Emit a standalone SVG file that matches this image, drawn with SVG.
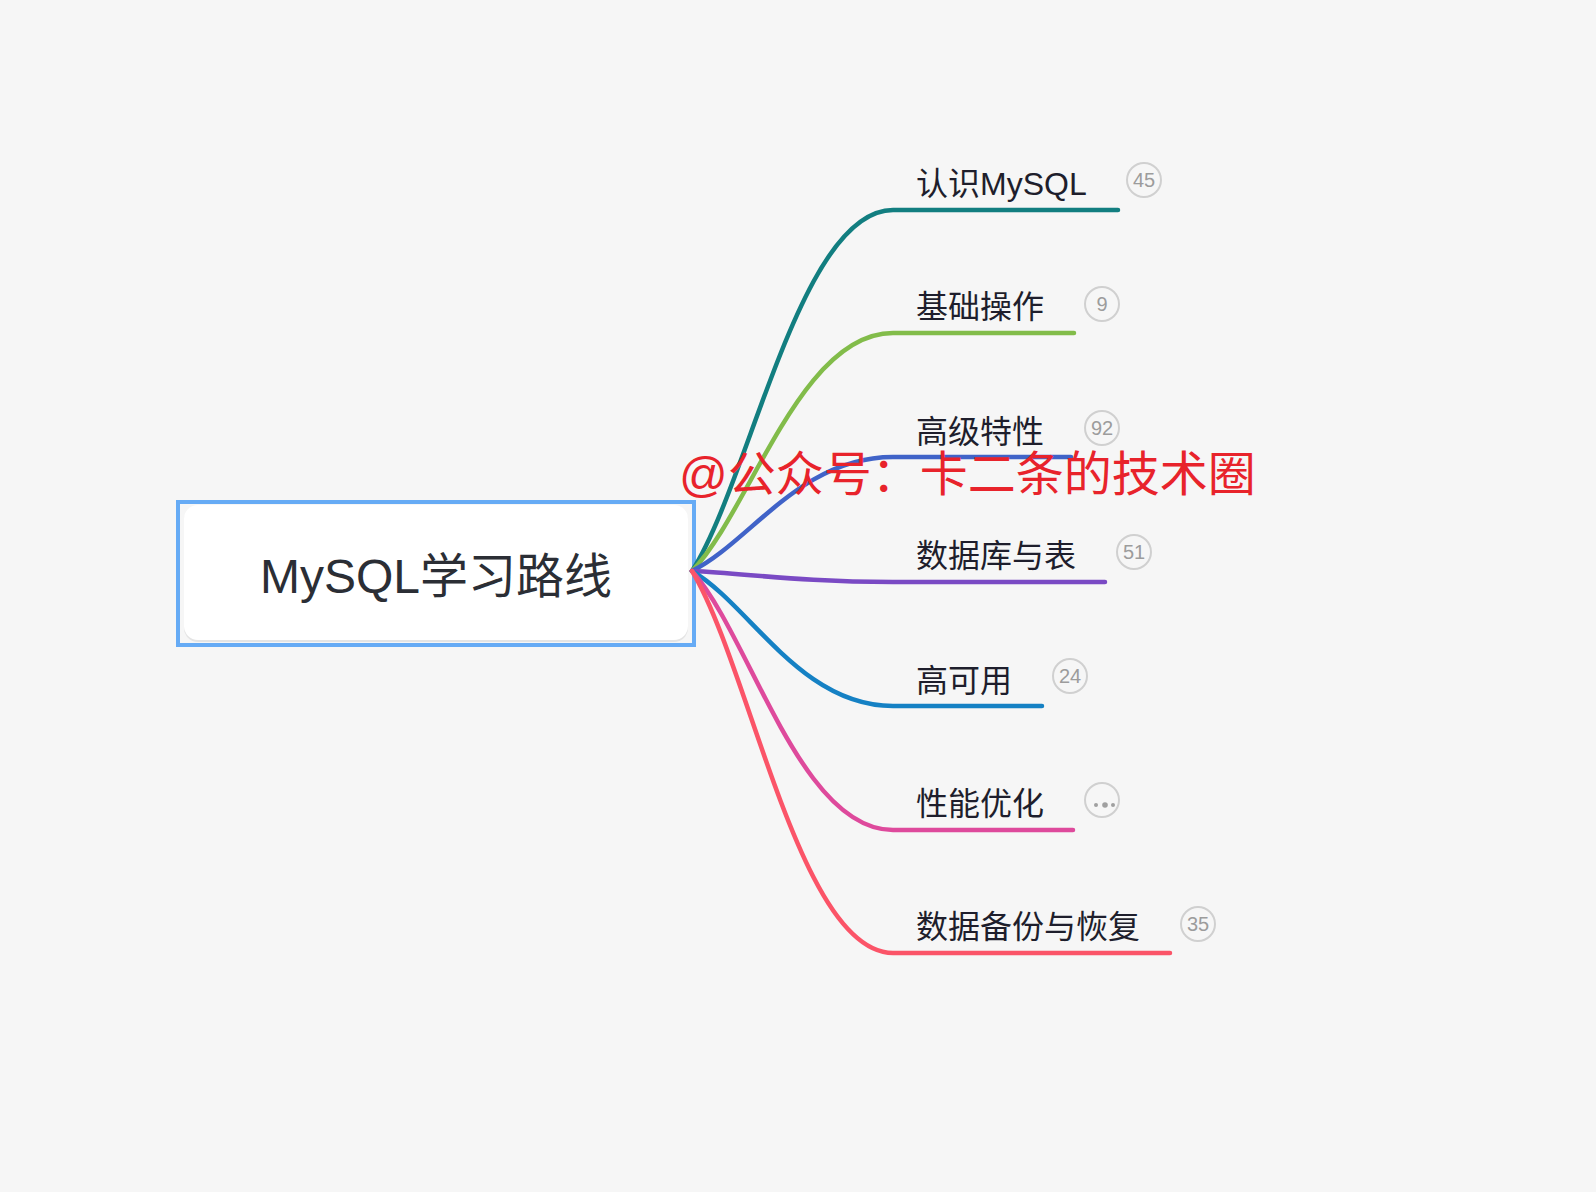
<svg xmlns="http://www.w3.org/2000/svg" width="1596" height="1192" viewBox="0 0 1596 1192">
<style>
.lbl{font-family:"Liberation Sans","Noto Sans CJK SC",sans-serif;font-size:32px;fill:#1e1e2c}
.badge{fill:none;stroke:#d0d0d0;stroke-width:2}
.bt{font-family:"Liberation Sans",sans-serif;font-size:20px;fill:#9c9c9c;text-anchor:middle}
.ln{fill:none;stroke-width:4.5;stroke-linecap:round}
</style>
<rect x="0" y="0" width="1596" height="1192" fill="#f6f6f6"/>
<g id="root">
  <rect x="184" y="507" width="504" height="135" rx="14" fill="#e4e4e4"/>
  <rect x="184" y="505" width="504" height="135" rx="14" fill="#ffffff"/>
  <rect x="178" y="502" width="516" height="143" fill="none" stroke="#66abf5" stroke-width="4"/>
  <text x="436" y="593" text-anchor="middle" font-family="Liberation Sans, Noto Sans CJK SC, sans-serif" font-size="48" fill="#2b2e35">MySQL学习路线</text>
</g>
<g id="connectors">
  <path class="ln" stroke="#127e80" d="M692 571 C750 480.75 800 210 893 210 L1118 210"/>
  <path class="ln" stroke="#82bc4a" d="M692 571 C750 511.5 800 333 893 333 L1074 333"/>
  <path class="ln" stroke="#4063c8" d="M692 571 C750 542.5 800 457 893 457 L1071 457"/>
  <path class="ln" stroke="#7a4ac4" d="M692 571 C750 573.75 800 582 893 582 L1105 582"/>
  <path class="ln" stroke="#1581c4" d="M692 571 C750 604.75 800 706 893 706 L1042 706"/>
  <path class="ln" stroke="#de4a9c" d="M692 571 C750 635.75 800 830 893 830 L1073 830"/>
  <path class="ln" stroke="#fb5468" d="M692 571 C750 666.5 800 953 893 953 L1170 953"/>
</g>
<g id="n1">
  <text class="lbl" x="916" y="195">认识MySQL</text>
  <circle class="badge" cx="1144" cy="180" r="17"/>
  <text class="bt" x="1144" y="187">45</text>
</g>
<g id="n2">
  <text class="lbl" x="916" y="318">基础操作</text>
  <circle class="badge" cx="1102" cy="304" r="17"/>
  <text class="bt" x="1102" y="311">9</text>
</g>
<g id="n3">
  <text class="lbl" x="916" y="443">高级特性</text>
  <circle class="badge" cx="1102" cy="428" r="17"/>
  <text class="bt" x="1102" y="435">92</text>
</g>
<g id="n4">
  <text class="lbl" x="916" y="567">数据库与表</text>
  <circle class="badge" cx="1134" cy="552" r="17"/>
  <text class="bt" x="1134" y="559">51</text>
</g>
<g id="n5">
  <text class="lbl" x="916" y="692">高可用</text>
  <circle class="badge" cx="1070" cy="676" r="17"/>
  <text class="bt" x="1070" y="683">24</text>
</g>
<g id="n6">
  <text class="lbl" x="916" y="815">性能优化</text>
  <circle class="badge" cx="1102" cy="800" r="17"/>
  <circle cx="1096" cy="805" r="2" fill="#a0a0a0"/>
  <circle cx="1105" cy="805" r="2.8" fill="#a0a0a0"/>
  <circle cx="1113" cy="805" r="2" fill="#a0a0a0"/>
</g>
<g id="n7">
  <text class="lbl" x="916" y="938">数据备份与恢复</text>
  <circle class="badge" cx="1198" cy="924" r="17"/>
  <text class="bt" x="1198" y="931">35</text>
</g>
<text x="679" y="491" font-family="Liberation Sans, Noto Sans CJK SC, sans-serif" font-size="48" fill="#e8232b">@公众号：卡二条的技术圈</text>
</svg>
